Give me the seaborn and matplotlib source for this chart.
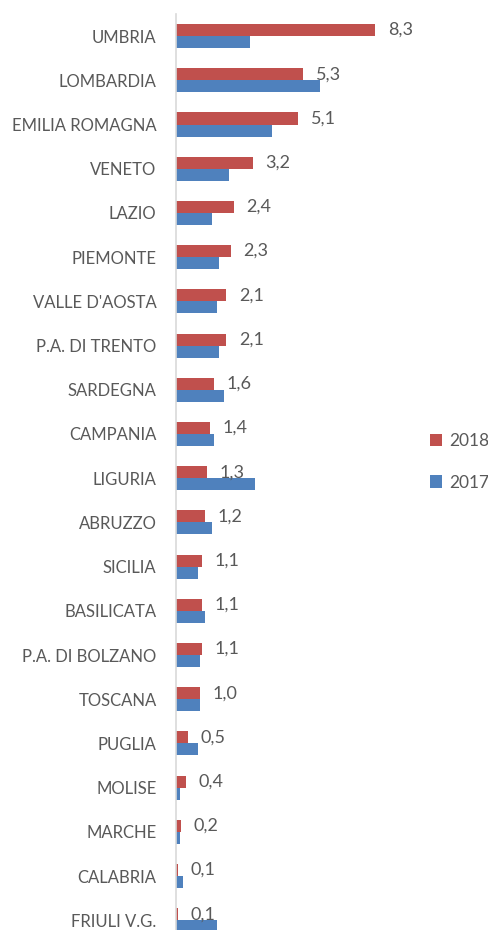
import pandas as pd
import matplotlib
matplotlib.use("Agg")
import matplotlib.pyplot as plt
import seaborn as sns

# values
regions = ["UMBRIA", "LOMBARDIA", "EMILIA ROMAGNA", "VENETO", "LAZIO", "PIEMONTE",
           "VALLE D'AOSTA", "P.A. DI TRENTO", "SARDEGNA", "CAMPANIA", "LIGURIA",
           "ABRUZZO", "SICILIA", "BASILICATA", "P.A. DI BOLZANO", "TOSCANA",
           "PUGLIA", "MOLISE", "MARCHE", "CALABRIA", "FRIULI V.G."]
v2018 = [8.3, 5.3, 5.1, 3.2, 2.4, 2.3, 2.1, 2.1, 1.6, 1.4, 1.3,
         1.2, 1.1, 1.1, 1.1, 1.0, 0.5, 0.4, 0.2, 0.1, 0.1]
v2017 = [3.1, 6.0, 4.0, 2.2, 1.5, 1.8, 1.7, 1.8, 2.0, 1.6, 3.3,
         1.5, 0.9, 1.2, 1.0, 1.0, 0.9, 0.18, 0.18, 0.3, 1.7]
years = ["2018", "2017"]
colors = {"2018": "#C0504D", "2017": "#4F81BD"}

df = pd.concat([
    pd.DataFrame({"region": regions, "year": "2018", "value": v2018}),
    pd.DataFrame({"region": regions, "year": "2017", "value": v2017}),
])

sns.set_style("white")
plt.rcParams["font.family"] = ["Lato", "DejaVu Sans"]
txt = "#595959"

fig = plt.figure(figsize=(4.88, 9.30), dpi=100)
ax = fig.add_axes([176 / 488, 0, 240 / 488, 1 - 14 / 930])

sns.barplot(data=df, y="region", x="value", hue="year", hue_order=years,
            order=regions, palette=colors, orient="h", width=0.545,
            saturation=1, errorbar=None, linewidth=0, ax=ax)

# data labels only on the 2018 bars, decimal comma
ax.bar_label(ax.containers[0], labels=[f"{v:.1f}".replace(".", ",") for v in v2018],
             padding=9, fontsize=13, color=txt)

ax.set_xlim(0, 10)
ax.set_ylim(20.22, -0.5)
ax.set_xlabel("")
ax.set_ylabel("")
ax.set_xticks([])
ax.tick_params(axis="y", length=0, pad=14, labelsize=12, labelcolor=txt)
for s in ["top", "right", "bottom"]:
    ax.spines[s].set_visible(False)
ax.spines["left"].set_color("#D9D9D9")
ax.spines["left"].set_linewidth(1.2)

handles, labels = ax.get_legend_handles_labels()
ax.legend(handles, labels, loc="center left", bbox_to_anchor=(430 / 488, 468 / 930),
          bbox_transform=fig.transFigure, frameon=False, fontsize=12.5,
          borderpad=0, borderaxespad=0,
          handlelength=0.7, handleheight=0.7, handletextpad=0.4,
          labelspacing=1.45, labelcolor=txt)

fig.savefig("out.png", dpi=100)
